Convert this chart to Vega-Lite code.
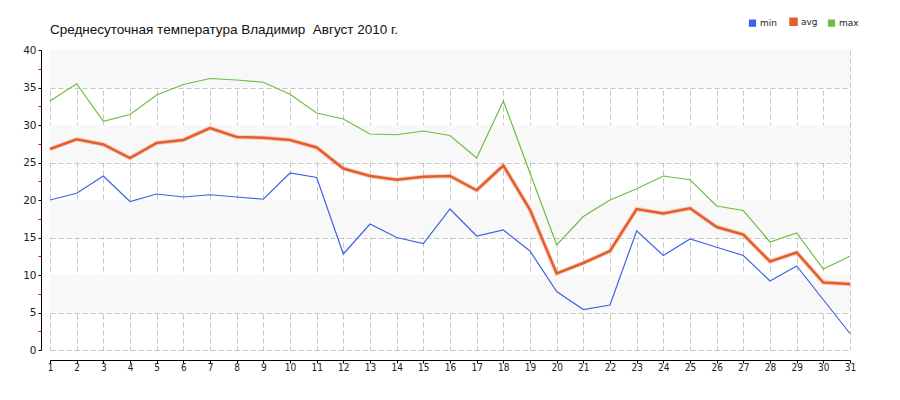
{
  "$schema": "https://vega.github.io/schema/vega-lite/v6.json",
  "width": 800,
  "height": 300,
  "autosize": {"type": "none"},
  "padding": {"left": 50, "top": 50, "right": 50, "bottom": 50},
  "background": "white",
  "title": {
    "text": "Среднесуточная температура Владимир\u00a0 Август 2010 г.",
    "anchor": "start",
    "frame": "group",
    "font": "Liberation Sans",
    "fontSize": 13.5,
    "fontWeight": "normal",
    "color": "#111111",
    "baseline": "alphabetic",
    "offset": 14,
    "dy": 44
  },
  "config": {
    "view": {"stroke": null},
    "axis": {"titleFontSize": 0},
    "legend": {"labelFont": "DejaVu Sans", "labelFontSize": 9, "labelColor": "#222222"}
  },
  "datasets": {
    "temps": [
      {"day": 1, "min": 20.0, "avg": 26.8, "max": 33.2},
      {"day": 2, "min": 20.9, "avg": 28.1, "max": 35.5},
      {"day": 3, "min": 23.2, "avg": 27.4, "max": 30.5},
      {"day": 4, "min": 19.8, "avg": 25.6, "max": 31.4},
      {"day": 5, "min": 20.8, "avg": 27.6, "max": 34.0},
      {"day": 6, "min": 20.4, "avg": 28.0, "max": 35.4},
      {"day": 7, "min": 20.7, "avg": 29.6, "max": 36.2},
      {"day": 8, "min": 20.4, "avg": 28.4, "max": 36.0},
      {"day": 9, "min": 20.1, "avg": 28.3, "max": 35.7},
      {"day": 10, "min": 23.6, "avg": 28.0, "max": 34.1},
      {"day": 11, "min": 23.0, "avg": 27.0, "max": 31.6},
      {"day": 12, "min": 12.8, "avg": 24.2, "max": 30.8},
      {"day": 13, "min": 16.8, "avg": 23.2, "max": 28.8},
      {"day": 14, "min": 15.0, "avg": 22.7, "max": 28.7},
      {"day": 15, "min": 14.2, "avg": 23.1, "max": 29.2},
      {"day": 16, "min": 18.8, "avg": 23.2, "max": 28.6},
      {"day": 17, "min": 15.2, "avg": 21.3, "max": 25.6},
      {"day": 18, "min": 16.0, "avg": 24.6, "max": 33.2},
      {"day": 19, "min": 13.2, "avg": 18.7, "max": 23.6},
      {"day": 20, "min": 7.8, "avg": 10.2, "max": 14.0},
      {"day": 21, "min": 5.4, "avg": 11.6, "max": 17.8},
      {"day": 22, "min": 6.0, "avg": 13.2, "max": 20.0},
      {"day": 23, "min": 15.9, "avg": 18.8, "max": 21.5},
      {"day": 24, "min": 12.6, "avg": 18.2, "max": 23.2},
      {"day": 25, "min": 14.8, "avg": 18.9, "max": 22.7},
      {"day": 26, "min": 13.7, "avg": 16.4, "max": 19.2},
      {"day": 27, "min": 12.6, "avg": 15.4, "max": 18.6},
      {"day": 28, "min": 9.2, "avg": 11.8, "max": 14.4},
      {"day": 29, "min": 11.2, "avg": 13.0, "max": 15.6},
      {"day": 30, "min": 6.7, "avg": 9.0, "max": 10.8},
      {"day": 31, "min": 2.2, "avg": 8.8, "max": 12.5}
    ],
    "bands": [
      {"value": 5, "value2": 10},
      {"value": 15, "value2": 20},
      {"value": 25, "value2": 30},
      {"value": 35, "value2": 40}
    ]
  },
  "encoding": {
    "y": {
      "field": "value",
      "type": "quantitative",
      "title": null,
      "scale": {"domain": [0, 40], "nice": false, "zero": false},
      "axis": {
        "values": [0, 2.5, 5, 7.5, 10, 12.5, 15, 17.5, 20, 22.5, 25, 27.5, 30, 32.5, 35, 37.5, 40],
        "labelExpr": "datum.value % 5 == 0 ? datum.label : ''",
        "offset": 9,
        "domainColor": "#000000",
        "domainWidth": 1,
        "tickSize": 3,
        "tickColor": {"condition": {"test": "datum.value % 5 != 0", "value": "#ff0000"}, "value": "#000000"},
        "grid": true,
        "gridColor": "#c4c4c4",
        "gridDash": [5, 3],
        "gridOpacity": {"condition": {"test": "datum.value % 5 != 0", "value": 0}, "value": 1},
        "labelFont": "DejaVu Sans",
        "labelFontSize": 10.5,
        "labelColor": "#222222",
        "labelPadding": 2
      }
    },
    "x": {
      "field": "day",
      "type": "quantitative",
      "title": null,
      "scale": {"domain": [1, 31], "nice": false, "zero": false},
      "axis": {
        "values": [1, 2, 3, 4, 5, 6, 7, 8, 9, 10, 11, 12, 13, 14, 15, 16, 17, 18, 19, 20, 21, 22, 23, 24, 25, 26, 27, 28, 29, 30, 31],
        "offset": 10,
        "domainColor": "#000000",
        "tickColor": "#000000",
        "tickSize": 3,
        "grid": true,
        "gridColor": "#c4c4c4",
        "gridDash": [5, 3],
        "labelFont": "Liberation Sans Narrow, DejaVu Sans Condensed, Liberation Sans",
        "labelFontSize": 10,
        "labelColor": "#222222",
        "labelPadding": -1,
        "labelFlush": false,
        "labelOverlap": false
      }
    }
  },
  "layer": [
    {
      "data": {"name": "bands"},
      "mark": {"type": "rect", "color": "#f8f8f8"},
      "encoding": {"x": null, "y2": {"field": "value2"}}
    },
    {
      "data": {"name": "temps"},
      "transform": [
        {"fold": ["min", "avg", "max"], "as": ["series", "value"]},
        {"filter": "datum.series == 'avg'"}
      ],
      "mark": {"type": "line", "strokeWidth": 4.5, "color": "#f4b89e", "opacity": 0.6},
      "encoding": {}
    },
    {
      "data": {"name": "temps"},
      "transform": [
        {"fold": ["min", "avg", "max"], "as": ["series", "value"]}
      ],
      "mark": {"type": "line"},
      "encoding": {
        "color": {
          "field": "series",
          "type": "nominal",
          "scale": {"domain": ["min", "avg", "max"], "range": ["#3f63e6", "#e55d2a", "#6dbd45"]},
          "legend": {
            "title": null,
            "orient": "none",
            "direction": "horizontal",
            "legendX": 698,
            "legendY": -33,
            "symbolType": "square",
            "symbolSize": 36,
            "columnPadding": 8,
            "labelOffset": 3,
            "symbolOpacity": 1,
            "encode": {
              "symbols": {
                "update": {
                  "fill": {"scale": "color", "field": "value"},
                  "stroke": {"value": "transparent"},
                  "strokeWidth": {"value": 0}
                }
              }
            }
          }
        },
        "strokeWidth": {
          "field": "series",
          "type": "nominal",
          "scale": {"type": "ordinal", "domain": ["min", "avg", "max"], "range": [1.2, 2.5, 1.2]},
          "legend": null
        }
      }
    }
  ]
}
